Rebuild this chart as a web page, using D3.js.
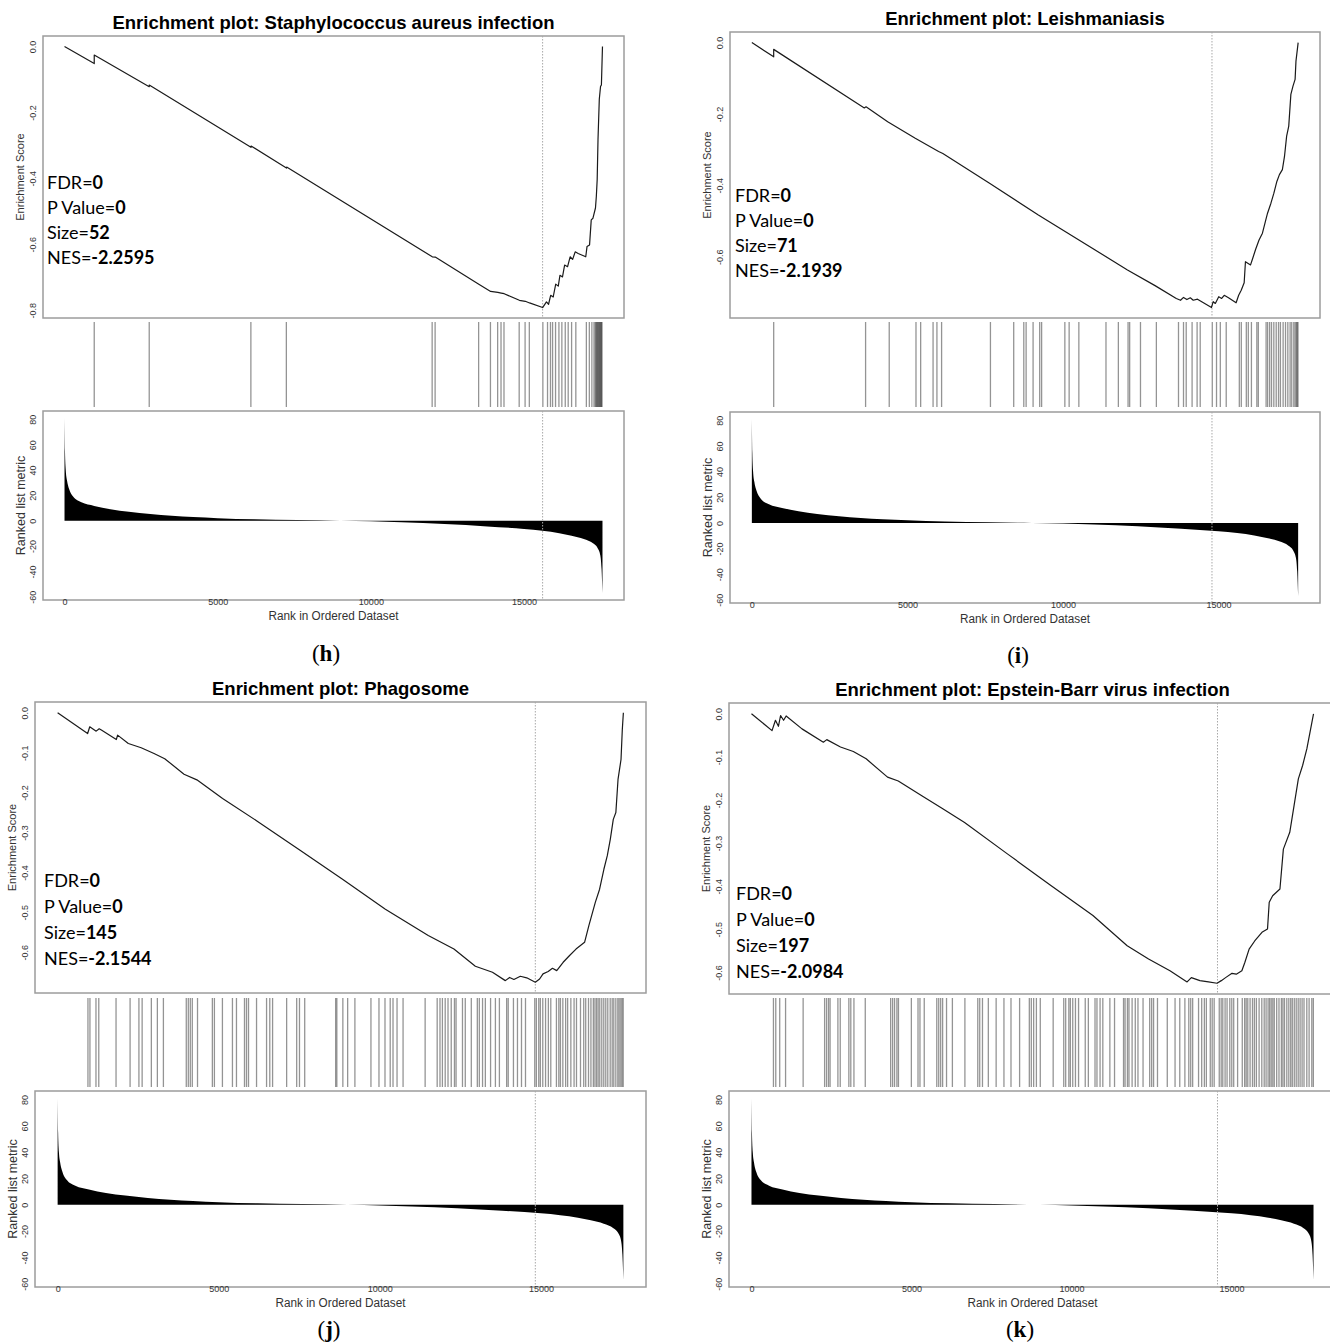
<!DOCTYPE html>
<html>
<head>
<meta charset="utf-8">
<script src="https://cdn.jsdelivr.net/npm/d3@7"></script>
<style>
  body { margin: 0; background: #fff; }
  svg text { font-family: "Liberation Sans", Arial, Helvetica, sans-serif; }
</style>
</head>
<body>
<svg id="fig" width="1330" height="1344"></svg>
<script>
// ---------------- data ----------------
const panelTags = ["h", "i", "j", "k"];
const titles = [
  "Enrichment plot: Staphylococcus aureus infection",
  "Enrichment plot: Leishmaniasis",
  "Enrichment plot: Phagosome",
  "Enrichment plot: Epstein-Barr virus infection"
];
const fdrValues = ["0", "0", "0", "0"];
const pValues = ["0", "0", "0", "0"];
const setSizes = ["52", "71", "145", "197"];
const nesValues = ["-2.2595", "-2.1939", "-2.1544", "-2.0984"];

// number of genes in the ranked list
const datasetSize = 17560;
const rankTicks = [0, 5000, 10000, 15000];
const metricTicks = [80, 60, 40, 20, 0, -20, -40, -60];
const esTicks = [
  [0, -0.2, -0.4, -0.6, -0.8],
  [0, -0.2, -0.4, -0.6],
  [0, -0.1, -0.2, -0.3, -0.4, -0.5, -0.6],
  [0, -0.1, -0.2, -0.3, -0.4, -0.5, -0.6]
];

// ranked list metric (signal-to-noise), shared by all four gene sets
const metricRanks  = [0, 15, 40, 80, 150, 280, 550, 970, 1500, 2100, 2800, 3500, 4200, 5000, 6200, 7600, 9000, 10000, 11000, 12400, 13800, 15000, 15600, 16150, 16550, 16950, 17250, 17400, 17490, 17530, 17560];
const metricValues = [81, 55, 40, 32, 25, 19, 14.5, 11.7, 9, 7, 5.2, 3.9, 2.9, 2, 1.1, 0.5, 0, -0.5, -1.3, -2.6, -4.5, -6.5, -7.9, -9.8, -11.8, -14.4, -17.8, -21.5, -27.5, -38, -57];

// running enrichment score [rank, ES]
const esStaph = [[0,0],[970,-0.052],[970,-0.026],[2765,-0.122],[2765,-0.117],[6085,-0.306],[6090,-0.302],[7244,-0.369],[7250,-0.366],[12005,-0.638],[12101,-0.639],[13523,-0.721],[13909,-0.743],[14144,-0.746],[14254,-0.748],[14351,-0.75],[14848,-0.770],[15041,-0.773],[15179,-0.778],[15606,-0.792],[15731,-0.775],[15800,-0.782],[15869,-0.755],[15951,-0.760],[16034,-0.721],[16117,-0.727],[16172,-0.694],[16255,-0.699],[16324,-0.663],[16421,-0.668],[16504,-0.638],[16586,-0.646],[16669,-0.623],[16766,-0.628],[17014,-0.638],[17055,-0.607],[17138,-0.602],[17193,-0.526],[17249,-0.521],[17331,-0.490],[17359,-0.455],[17387,-0.404],[17414,-0.282],[17456,-0.160],[17497,-0.121],[17525,-0.117],[17560,0]];
const esLeish = [[0,0],[702,-0.040],[702,-0.019],[3615,-0.183],[3670,-0.180],[4366,-0.222],[5252,-0.268],[6003,-0.305],[6139,-0.311],[7640,-0.394],[9209,-0.483],[12074,-0.637],[12960,-0.681],[13643,-0.717],[13779,-0.722],[13875,-0.714],[13984,-0.72],[14093,-0.715],[14188,-0.722],[14325,-0.719],[14420,-0.724],[14775,-0.742],[14829,-0.726],[14898,-0.731],[15007,-0.712],[15102,-0.717],[15184,-0.708],[15321,-0.715],[15566,-0.729],[15648,-0.708],[15730,-0.694],[15825,-0.673],[15866,-0.614],[16030,-0.623],[16098,-0.605],[16194,-0.579],[16303,-0.553],[16412,-0.534],[16508,-0.501],[16576,-0.478],[16685,-0.45],[16780,-0.422],[16876,-0.389],[16958,-0.37],[17053,-0.356],[17121,-0.319],[17190,-0.262],[17258,-0.234],[17326,-0.145],[17394,-0.122],[17462,-0.103],[17490,-0.052],[17560,0]];
const esPhago = [[0,0],[931,-0.052],[997,-0.035],[1197,-0.046],[1290,-0.04],[1370,-0.044],[1822,-0.067],[1862,-0.056],[2194,-0.077],[2593,-0.0875],[2992,-0.102],[3324,-0.115],[3923,-0.154],[4322,-0.168],[5120,-0.215],[6184,-0.271],[7513,-0.344],[8843,-0.417],[10173,-0.492],[11503,-0.558],[12301,-0.592],[12965,-0.635],[13497,-0.65],[13896,-0.671],[14029,-0.663],[14162,-0.668],[14362,-0.66],[14561,-0.664],[14827,-0.675],[14960,-0.667],[15066,-0.654],[15226,-0.648],[15359,-0.64],[15492,-0.646],[15691,-0.625],[15891,-0.608],[16090,-0.592],[16356,-0.575],[16489,-0.533],[16689,-0.475],[16822,-0.442],[16955,-0.392],[17061,-0.358],[17154,-0.317],[17247,-0.267],[17327,-0.25],[17394,-0.167],[17487,-0.117],[17527,-0.042],[17560,0]];
const esEbv = [[0,0],[642,-0.039],[749,-0.015],[842,-0.029],[909,-0.004],[1003,-0.015],[1083,-0.005],[1578,-0.035],[2246,-0.066],[2353,-0.060],[2781,-0.077],[3182,-0.0875],[3583,-0.1045],[4251,-0.147],[4586,-0.156],[5321,-0.19],[5989,-0.221],[6658,-0.252],[7995,-0.325],[9332,-0.397],[10668,-0.468],[11738,-0.538],[12406,-0.569],[13075,-0.596],[13610,-0.622],[13743,-0.612],[14011,-0.619],[14278,-0.622],[14545,-0.625],[14679,-0.619],[14813,-0.612],[15013,-0.602],[15147,-0.604],[15321,-0.596],[15414,-0.577],[15548,-0.546],[15722,-0.527],[15949,-0.507],[16123,-0.499],[16176,-0.437],[16283,-0.422],[16511,-0.4065],[16618,-0.314],[16818,-0.275],[16952,-0.213],[17086,-0.151],[17219,-0.12],[17353,-0.081],[17460,-0.039],[17560,0]];

// positions of gene-set members in the ranked list
const hitsStaph = [970, 2765, 6083, 7241, 12000, 12097, 13517, 13903, 14138, 14248, 14345, 14841, 15034, 15172, 15614, 15766, 15862, 15931, 16028, 16138, 16234, 16345, 16441, 16552, 16690, 17034, 17131, 17214, 17283, 17324, 17350, 17372, 17395, 17418, 17440, 17462, 17484, 17505, 17525, 17545];
const hitsLeish = [702, 3656, 4416, 5276, 5426, 5825, 5949, 6099, 7669, 8417, 8741, 8816, 9040, 9252, 9314, 10061, 10199, 10511, 11383, 11781, 12093, 12144, 12492, 13003, 13714, 13875, 13962, 14151, 14312, 14412, 14800, 14936, 15058, 15248, 15669, 15733, 15894, 15958, 16058, 16232, 16280, 16530, 16579, 16643, 16704, 16778, 16855, 16929, 16990, 17077, 17154, 17228, 17302, 17354, 17420, 17465, 17505, 17530, 17555];
const hitsPhago = [941, 1003, 1190, 1277, 1813, 2249, 2523, 2623, 2909, 3096, 3283, 3993, 4056, 4118, 4180, 4342, 4803, 4866, 5115, 5426, 5551, 5800, 5862, 5925, 6174, 6485, 6585, 6672, 7108, 7420, 7507, 7669, 8629, 8666, 8853, 9002, 9227, 9725, 9974, 10161, 10323, 10410, 10535, 10722, 11407, 11781, 11868, 11943, 12030, 12117, 12217, 12317, 12367, 12566, 12653, 12840, 13027, 13089, 13189, 13276, 13438, 13588, 13712, 13937, 13986, 14148, 14273, 14398, 14522, 14809, 14859, 14933, 14983, 15058, 15145, 15232, 15307, 15482, 15556, 15606, 15681, 15768, 15830, 15930, 16030, 16105, 16229, 16329, 16391, 16478, 16553, 16628, 16678, 16728, 16777, 16827, 16890, 16952, 17014, 17076, 17151, 17213, 17263, 17326, 17388, 17430, 17480, 17520, 17555];
const hitsEbv = [686, 759, 882, 1065, 1614, 2285, 2346, 2407, 2456, 2700, 2773, 3042, 3103, 3201, 3555, 4348, 4409, 4470, 4543, 4592, 4995, 5203, 5264, 5398, 5789, 5850, 5911, 5972, 6094, 6277, 6668, 7070, 7131, 7217, 7400, 7644, 7888, 8108, 8377, 8681, 8743, 8816, 8902, 9023, 9426, 9756, 9817, 9915, 9963, 10037, 10122, 10219, 10428, 10525, 10733, 10794, 10891, 10977, 11197, 11343, 11624, 11672, 11746, 11794, 11892, 11991, 12075, 12234, 12441, 12503, 12563, 12685, 12991, 13234, 13381, 13541, 13663, 13723, 13784, 13968, 14066, 14150, 14212, 14334, 14394, 14456, 14615, 14675, 14725, 14797, 14859, 14944, 15006, 15066, 15188, 15334, 15408, 15456, 15506, 15578, 15653, 15713, 15775, 15860, 15944, 16019, 16078, 16141, 16189, 16238, 16288, 16334, 16409, 16481, 16556, 16603, 16653, 16725, 16788, 16847, 16897, 16959, 17019, 17081, 17141, 17203, 17263, 17350, 17422, 17506, 17555];

// rank at which the running score reaches its extreme
const peakRanks = [15606, 14790, 14827, 14560];

const esSeries = [esStaph, esLeish, esPhago, esEbv];
const hitSeries = [hitsStaph, hitsLeish, hitsPhago, hitsEbv];

// ---------------- layout ----------------
const layout = [
  { left: 43,  right: 624,  esTop: 36,  esBottom: 318, hitTop: 322,  hitBottom: 407,  metTop: 411,  metBottom: 600,  statX: 47,  statY: 183, statGap: 25, tagX: 326,  tagY: 653 },
  { left: 730, right: 1320, esTop: 32,  esBottom: 318, hitTop: 322,  hitBottom: 407,  metTop: 412,  metBottom: 603,  statX: 735, statY: 196, statGap: 25, tagX: 1018, tagY: 655 },
  { left: 35,  right: 646,  esTop: 702, esBottom: 993, hitTop: 998,  hitBottom: 1087, metTop: 1091, metBottom: 1287, statX: 44,  statY: 881, statGap: 26, tagX: 329,  tagY: 1329 },
  { left: 729, right: 1336, esTop: 703, esBottom: 994, hitTop: 998,  hitBottom: 1087, metTop: 1091, metBottom: 1287, statX: 736, statY: 894, statGap: 26, tagX: 1020, tagY: 1329 }
];

const svg = d3.select("#fig");
svg.append("rect").attr("width", 1330).attr("height", 1344).attr("fill", "#fff");

const BOX = "#9c9c9c";
const TICK_TXT = "#333";

// pad an extent by 4% on each side, as R does by default
function padded(lo, hi) {
  const p = (hi - lo) * 0.04;
  return [lo - p, hi + p];
}

function drawPanel(k) {
  const L = layout[k];
  const g = svg.append("g").attr("class", "panel panel-" + panelTags[k]);
  const midX = (L.left + L.right) / 2;

  const x = d3.scaleLinear().domain(padded(0, datasetSize)).range([L.left, L.right]);
  const esExt = d3.extent(esSeries[k], d => d[1]);
  const esY = d3.scaleLinear().domain(padded(Math.min(0, esExt[0]), Math.max(0, esExt[1]))).range([L.esBottom, L.esTop]);
  const metY = d3.scaleLinear().domain(padded(d3.min(metricValues), d3.max(metricValues))).range([L.metBottom, L.metTop]);

  // title
  g.append("text")
    .attr("x", midX).attr("y", L.esTop - 7)
    .attr("text-anchor", "middle")
    .attr("font-size", 18.5).attr("font-weight", "bold").attr("fill", "#000")
    .text(titles[k]);

  // --- running enrichment score panel ---
  g.append("rect")
    .attr("x", L.left).attr("y", L.esTop)
    .attr("width", L.right - L.left).attr("height", L.esBottom - L.esTop)
    .attr("fill", "none").attr("stroke", BOX).attr("stroke-width", 1.5);

  g.append("line")
    .attr("x1", x(peakRanks[k])).attr("x2", x(peakRanks[k]))
    .attr("y1", L.esTop).attr("y2", L.esBottom)
    .attr("stroke", "#a8a8a8").attr("stroke-width", 1).attr("stroke-dasharray", "1.5,1.5");

  g.append("path")
    .datum(esSeries[k])
    .attr("fill", "none").attr("stroke", "#1a1a1a").attr("stroke-width", 1.2)
    .attr("stroke-linejoin", "round")
    .attr("d", d3.line().x(d => x(d[0])).y(d => esY(d[1])));

  const esAxis = g.append("g")
    .attr("transform", `translate(${L.left},0)`)
    .call(d3.axisLeft(esY).tickValues(esTicks[k]).tickSize(0).tickFormat(d => d.toFixed(1)));
  esAxis.select(".domain").remove();
  esAxis.selectAll(".tick text")
    .attr("transform", "rotate(-90)")
    .attr("x", 0).attr("y", -7).attr("dy", 0)
    .attr("text-anchor", "middle")
    .attr("font-size", 9).attr("fill", TICK_TXT)
    .style("font-family", "'Liberation Sans', Arial, sans-serif");

  g.append("text")
    .attr("transform", `translate(${L.left - 19},${(L.esTop + L.esBottom) / 2}) rotate(-90)`)
    .attr("text-anchor", "middle")
    .attr("font-size", 11).attr("fill", "#333")
    .text("Enrichment Score");

  // statistics block
  const stats = [["FDR=", fdrValues[k]], ["P Value=", pValues[k]], ["Size=", setSizes[k]], ["NES=", nesValues[k]]];
  stats.forEach((s, i) => {
    const t = g.append("text")
      .attr("x", L.statX).attr("y", L.statY + i * L.statGap)
      .attr("dy", "0.36em")
      .style("font-family", "Lato, 'Open Sans', sans-serif")
      .attr("font-size", 18).attr("fill", "#000");
    t.append("tspan").text(s[0]);
    t.append("tspan").attr("font-weight", "bold").text(s[1]);
  });

  // --- hit markers ---
  g.append("g").selectAll("line")
    .data(hitSeries[k])
    .join("line")
    .attr("x1", d => x(d)).attr("x2", d => x(d))
    .attr("y1", L.hitTop).attr("y2", L.hitBottom)
    .attr("stroke", "#000").attr("stroke-opacity", 0.42).attr("stroke-width", 1.3);

  // --- ranked list metric panel ---
  g.append("rect")
    .attr("x", L.left).attr("y", L.metTop)
    .attr("width", L.right - L.left).attr("height", L.metBottom - L.metTop)
    .attr("fill", "none").attr("stroke", BOX).attr("stroke-width", 1.5);

  const metricData = metricRanks.map((r, i) => [r, metricValues[i]]);
  g.append("path")
    .datum(metricData)
    .attr("fill", "#000").attr("stroke", "none")
    .attr("d", d3.area()
      .x(d => x(d[0]))
      .y0(metY(0))
      .y1(d => metY(d[1]))
      .curve(d3.curveMonotoneX));

  g.append("line")
    .attr("x1", x(peakRanks[k])).attr("x2", x(peakRanks[k]))
    .attr("y1", L.metTop).attr("y2", L.metBottom)
    .attr("stroke", "#a8a8a8").attr("stroke-width", 1).attr("stroke-dasharray", "1.5,1.5");

  const metAxis = g.append("g")
    .attr("transform", `translate(${L.left},0)`)
    .call(d3.axisLeft(metY).tickValues(metricTicks).tickSize(0).tickFormat(d => String(d)));
  metAxis.select(".domain").remove();
  metAxis.selectAll(".tick text")
    .attr("transform", "rotate(-90)")
    .attr("x", 0).attr("y", -7).attr("dy", 0)
    .attr("text-anchor", "middle")
    .attr("font-size", 9).attr("fill", TICK_TXT)
    .style("font-family", "'Liberation Sans', Arial, sans-serif");

  g.append("text")
    .attr("transform", `translate(${L.left - 18},${(L.metTop + L.metBottom) / 2}) rotate(-90)`)
    .attr("text-anchor", "middle")
    .attr("font-size", 12.5).attr("fill", "#333")
    .text("Ranked list metric");

  const xAxis = g.append("g")
    .attr("transform", `translate(0,${L.metBottom})`)
    .call(d3.axisBottom(x).tickValues(rankTicks).tickSize(0).tickPadding(-1).tickFormat(d => String(d)));
  xAxis.select(".domain").remove();
  xAxis.selectAll(".tick text")
    .attr("font-size", 9).attr("fill", TICK_TXT)
    .style("font-family", "'Liberation Sans', Arial, sans-serif");

  g.append("text")
    .attr("x", midX).attr("y", L.metBottom + 20)
    .attr("text-anchor", "middle")
    .attr("font-size", 12.5).attr("fill", "#333")
    .attr("textLength", 130).attr("lengthAdjust", "spacingAndGlyphs")
    .text("Rank in Ordered Dataset");

  // sub-figure tag
  const tag = g.append("text")
    .attr("x", L.tagX).attr("y", L.tagY).attr("dy", "0.35em")
    .attr("text-anchor", "middle")
    .style("font-family", "'Liberation Serif', 'DejaVu Serif', serif")
    .attr("font-size", 23).attr("fill", "#000");
  tag.append("tspan").text("(");
  tag.append("tspan").attr("font-weight", "bold").text(panelTags[k]);
  tag.append("tspan").text(")");
}

for (let k = 0; k < 4; k++) drawPanel(k);
</script>
</body>
</html>
